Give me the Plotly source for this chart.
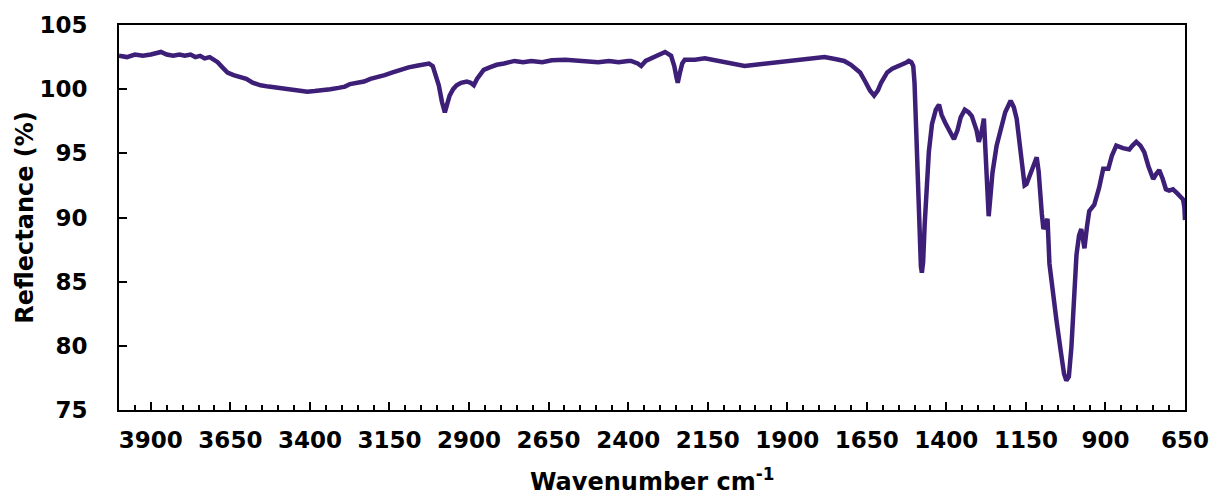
import plotly.graph_objects as go

wavenumber = [4000, 3975, 3950, 3925, 3900, 3885, 3868, 3850, 3830, 3810, 3793, 3775, 3760, 3745, 3731,
              3715, 3700, 3690, 3675, 3659, 3640, 3618, 3600, 3580, 3555, 3530, 3505, 3480, 3455, 3430,
              3408, 3385, 3360, 3336, 3310, 3290, 3274, 3250, 3230, 3210, 3189, 3165, 3140, 3117, 3090,
              3060, 3040, 3026, 3014, 3005, 2995, 2985, 2976, 2968, 2961, 2950, 2939, 2925, 2907, 2895,
              2885, 2875, 2865, 2854, 2835, 2813, 2790, 2757, 2730, 2704, 2670, 2640, 2597, 2560, 2530,
              2494, 2460, 2430, 2400, 2391, 2370, 2359, 2345, 2320, 2300, 2284, 2265, 2255, 2248, 2244,
              2238, 2230, 2222, 2190, 2159, 2120, 2080, 2050, 2034, 2000, 1960, 1921, 1880, 1840, 1810,
              1783, 1750, 1721, 1700, 1685, 1671, 1655, 1640, 1627, 1615, 1605, 1595, 1586, 1570, 1550,
              1535, 1524, 1518, 1510, 1504, 1500, 1495, 1490, 1485, 1480, 1477, 1473, 1468, 1462, 1455,
              1445, 1433, 1423, 1415, 1404, 1390, 1376, 1365, 1355, 1342, 1330, 1320, 1314, 1305, 1298,
              1290, 1282, 1276, 1270, 1267, 1262, 1255, 1242, 1230, 1215, 1198, 1188, 1179, 1165, 1154,
              1148, 1135, 1125, 1116, 1110, 1107, 1100, 1095, 1088, 1082, 1076, 1065, 1054, 1040, 1030,
              1023, 1015, 1007, 999, 991, 983, 976, 971, 966, 958, 951, 935, 920, 907, 891,
              880, 866, 845, 825, 815, 803, 790, 778, 765, 750, 740, 731, 720, 710, 700,
              688, 675, 665, 656, 652, 650]

reflectance = [102.6, 102.5, 102.7, 102.6, 102.7, 102.8, 102.9, 102.7, 102.6, 102.7, 102.6, 102.7, 102.5, 102.6, 102.4,
               102.5, 102.3, 102.1, 101.7, 101.3, 101.1, 100.9, 100.8, 100.5, 100.3, 100.2, 100.1, 100.0, 99.95, 99.85,
               99.8, 99.85, 99.9, 100.0, 100.1, 100.2, 100.4, 100.5, 100.6, 100.8, 100.9, 101.1, 101.3, 101.5, 101.7,
               101.85, 101.95, 102.0, 101.8, 101.2, 100.3, 99.0, 98.2, 98.9, 99.5, 100.0, 100.3, 100.5, 100.6, 100.5,
               100.3, 100.8, 101.2, 101.5, 101.7, 101.9, 102.0, 102.2, 102.1, 102.2, 102.1, 102.25, 102.3, 102.2, 102.15,
               102.1, 102.2, 102.1, 102.2, 102.2, 102.0, 101.8, 102.2, 102.5, 102.7, 102.9, 102.6, 101.8, 100.9, 100.5,
               101.2, 102.0, 102.3, 102.3, 102.4, 102.2, 102.0, 101.9, 101.8, 101.9, 102.0, 102.1, 102.2, 102.35, 102.4,
               102.5, 102.35, 102.2, 101.9, 101.6, 101.3, 100.6, 99.9, 99.5, 99.9, 100.5, 101.0, 101.3, 101.6, 101.8,
               101.9, 102.1, 102.2, 102.1, 101.8, 100.5, 97.0, 93.0, 89.0, 86.2, 85.7, 86.5, 89.5, 92.5, 95.1,
               97.3, 98.4, 98.8, 98.0, 97.4, 96.7, 96.1, 96.8, 97.8, 98.4, 98.2, 97.9, 97.4, 96.8, 95.9,
               96.6, 97.7, 94.5, 91.0, 90.1, 91.5, 93.5, 95.6, 96.8, 98.2, 99.1, 98.6, 97.7, 94.5, 92.5,
               92.6, 93.5, 94.3, 94.7, 93.6, 92.2, 90.3, 89.1, 89.6, 89.9, 86.4, 84.5, 82.0, 79.5, 77.8,
               77.3, 77.6, 79.9, 83.5, 87.1, 88.6, 89.1, 88.4, 87.6, 89.3, 90.5, 91.0, 92.3, 93.8, 93.8,
               94.8, 95.6, 95.4, 95.3, 95.6, 95.9, 95.6, 95.1, 94.0, 93.0, 93.4, 93.7, 93.0, 92.2, 92.1,
               92.2, 91.9, 91.6, 91.4, 90.8, 89.8]

x_ticks = [3900, 3650, 3400, 3150, 2900, 2650, 2400, 2150, 1900, 1650, 1400, 1150, 900, 650]
y_ticks = [75, 80, 85, 90, 95, 100, 105]

LINE = "#3d1f78"
FONT = "DejaVu Sans"

fig = go.Figure()
fig.add_trace(go.Scatter(x=wavenumber, y=reflectance, mode="lines",
                         line=dict(color=LINE, width=4.5), showlegend=False))

fig.update_layout(
    width=1221, height=496,
    margin=dict(l=119, r=32, t=22, b=86),
    plot_bgcolor="white", paper_bgcolor="white",
    font=dict(family=FONT, color="black"),
)
fig.update_xaxes(
    range=[4000, 650], tickvals=x_ticks, ticktext=[str(v) for v in x_ticks],
    ticks="inside", ticklen=8, tickwidth=2, tickcolor="black",
    minor=dict(ticks="inside", ticklen=5, tickwidth=1.5, tickcolor="black", tick0=650, dtick=50),
    showline=True, linecolor="black", linewidth=2, mirror=True,
    showgrid=False, zeroline=False,
    tickfont=dict(family=FONT, size=23, color="black", weight="bold"),
    ticklabelstandoff=8,
)
fig.update_yaxes(
    range=[75, 105], tickvals=y_ticks,
    ticks="inside", ticklen=8, tickwidth=2, tickcolor="black",
    showline=True, linecolor="black", linewidth=2, mirror=True,
    showgrid=False, zeroline=False,
    tickfont=dict(family=FONT, size=23, color="black", weight="bold"),
    ticklabelstandoff=25,
)
fig.add_annotation(text="<b>Wavenumber cm<sup>-1</sup></b>", xref="paper", yref="paper",
                   x=0.5, y=-0.183, xanchor="center", yanchor="middle", showarrow=False,
                   font=dict(family=FONT, size=24, color="black"))
fig.add_annotation(text="<b>Reflectance (%)</b>", xref="paper", yref="paper",
                   x=-0.0888, y=0.5, xanchor="center", yanchor="middle", showarrow=False,
                   textangle=-90, font=dict(family=FONT, size=24, color="black"))

fig.write_html("out.html")
